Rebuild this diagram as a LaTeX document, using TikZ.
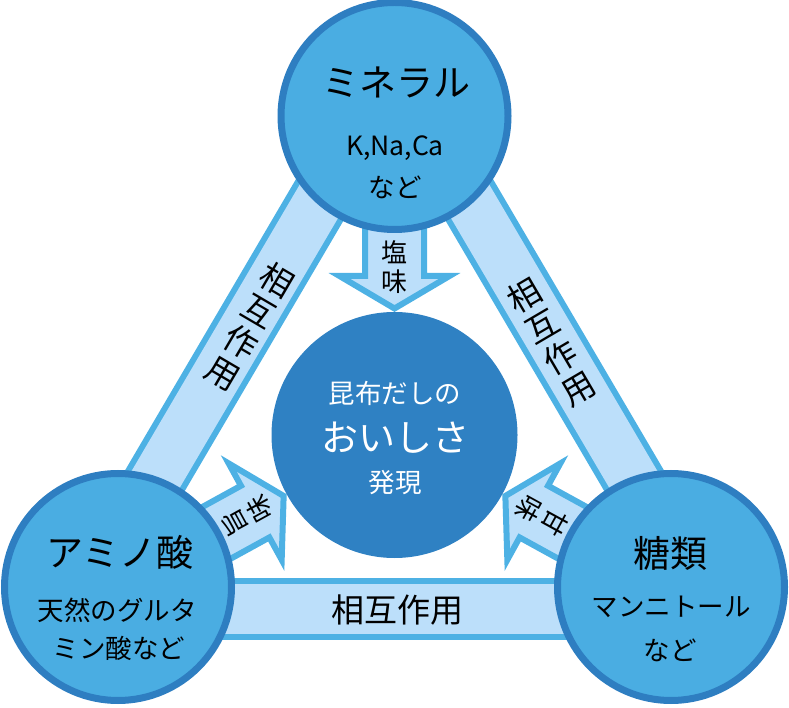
\documentclass[tikz,border=0pt]{standalone}
\usepackage{fontspec}
\setmainfont{Noto Sans CJK JP}
\usetikzlibrary{calc}
\definecolor{circfill}{RGB}{74,173,226}
\definecolor{circline}{RGB}{46,126,193}
\definecolor{corefill}{RGB}{47,129,195}
\definecolor{bandfill}{RGB}{188,223,250}
\definecolor{bandline}{RGB}{77,177,228}
\begin{document}
\begin{tikzpicture}[x=1pt,y=1pt,
  topic/.style={circle, draw=circline, line width=7pt, fill=circfill, minimum size=227pt, inner sep=0pt},
  core/.style={circle, fill=corefill, minimum size=246pt, inner sep=0pt},
  bandouter/.style={draw=bandline, line width=62pt},
  bandinner/.style={draw=bandfill, line width=50pt},
  arrowshape/.style={draw=bandline, fill=bandfill, line width=6pt, line join=miter},
  lbl/.style={inner sep=0pt, text=black},
  big/.style={lbl, font=\fontsize{37}{40}\selectfont},
  small/.style={lbl, font=\fontsize{26.5}{30}\selectfont},
  white/.style={text=white},
  vtext/.style={lbl, align=center, font=\fontsize{33}{36}\selectfont},
  atext/.style={lbl, align=center, font=\fontsize{26}{29}\selectfont}
]
\useasboundingbox (0,0) rectangle (789,707);
\coordinate (cM) at (394.5,591);
\coordinate (cA) at (118,120);
\coordinate (cS) at (671,120);
\coordinate (cC) at (394.5,272);

% bands
\coordinate (bL1) at ($(cA)!22pt!90:(cM)$);
\coordinate (bL2) at ($(cM)!22pt!-90:(cA)$);
\coordinate (bR1) at ($(cM)!22pt!90:(cS)$);
\coordinate (bR2) at ($(cS)!22pt!-90:(cM)$);
\coordinate (bB1) at ($(cA)!22pt!-90:(cS)$);
\coordinate (bB2) at ($(cS)!22pt!90:(cA)$);
\draw[bandouter] (bL1) -- (bL2);
\draw[bandinner] (bL1) -- (bL2);
\draw[bandouter] (bR1) -- (bR2);
\draw[bandinner] (bR1) -- (bR2);
\draw[bandouter] (bB1) -- (bB2);
\draw[bandinner] (bB1) -- (bB2);

% arrows
\coordinate (tipM) at ($(cC)!123pt!(cM)$);
\coordinate (tipA) at ($(cC)!123pt!(cA)$);
\coordinate (tipS) at ($(cC)!123pt!(cS)$);
\begin{scope}[shift={(tipM)}, rotate=-90]
  \draw[arrowshape] (-3.5,0) -- (-36,55) -- (-36,29.5) -- (-150,29.5) -- (-150,-29.5) -- (-36,-29.5) -- (-36,-55) -- cycle;
  \node[atext, rotate=0] (salt) at (-45,0) {塩\\味};
\end{scope}
\begin{scope}[shift={(tipA)}, rotate=28.8]
  \draw[arrowshape] (-3.5,0) -- (-36,55) -- (-36,29.5) -- (-150,29.5) -- (-150,-29.5) -- (-36,-29.5) -- (-36,-55) -- cycle;
  \node[atext, rotate=118.8] (umami) at (-45,0) {旨\\味};
\end{scope}
\begin{scope}[shift={(tipS)}, rotate=151.2]
  \draw[arrowshape] (-3.5,0) -- (-36,55) -- (-36,29.5) -- (-150,29.5) -- (-150,-29.5) -- (-36,-29.5) -- (-36,-55) -- cycle;
  \node[atext, rotate=241.2] (sweet) at (-45,0) {甘\\味};
\end{scope}

% circles
\node[topic] (M) at (cM) {};
\node[topic] (A) at (cA) {};
\node[topic] (S) at (cS) {};
\node[core] (C) at (cC) {};

% band labels
\node[vtext, rotate=-30.4] (lblL) at (250,380.5) {相\\互\\作\\用};
\node[vtext, rotate=30.4] (lblR) at (551.5,365.5) {相\\互\\作\\用};
\node[lbl, font=\fontsize{33}{36}\selectfont] (lblB) at (397,97) {相互作用};

% mineral
\node[big] (m1) at (396,625) {ミネラル};
\node[small] (m2) at (395,559) {K,Na,Ca};
\node[small] (m3) at (395,520) {など};
% amino
\node[big] (a1) at (120,155) {アミノ酸};
\node[small] (a2) at (117,97) {天然のグルタ};
\node[small] (a3) at (119,59) {ミン酸など};
% sugar
\node[big] (s1) at (670,154) {糖類};
\node[small] (s2) at (671,100) {マンニトール};
\node[small] (s3) at (670,57) {など};
% core
\node[small, white] (c1) at (395,314) {昆布だしの};
\node[big, white] (c2) at (395,269) {おいしさ};
\node[small, white] (c3) at (395,224) {発現};
\end{tikzpicture}
\end{document}
